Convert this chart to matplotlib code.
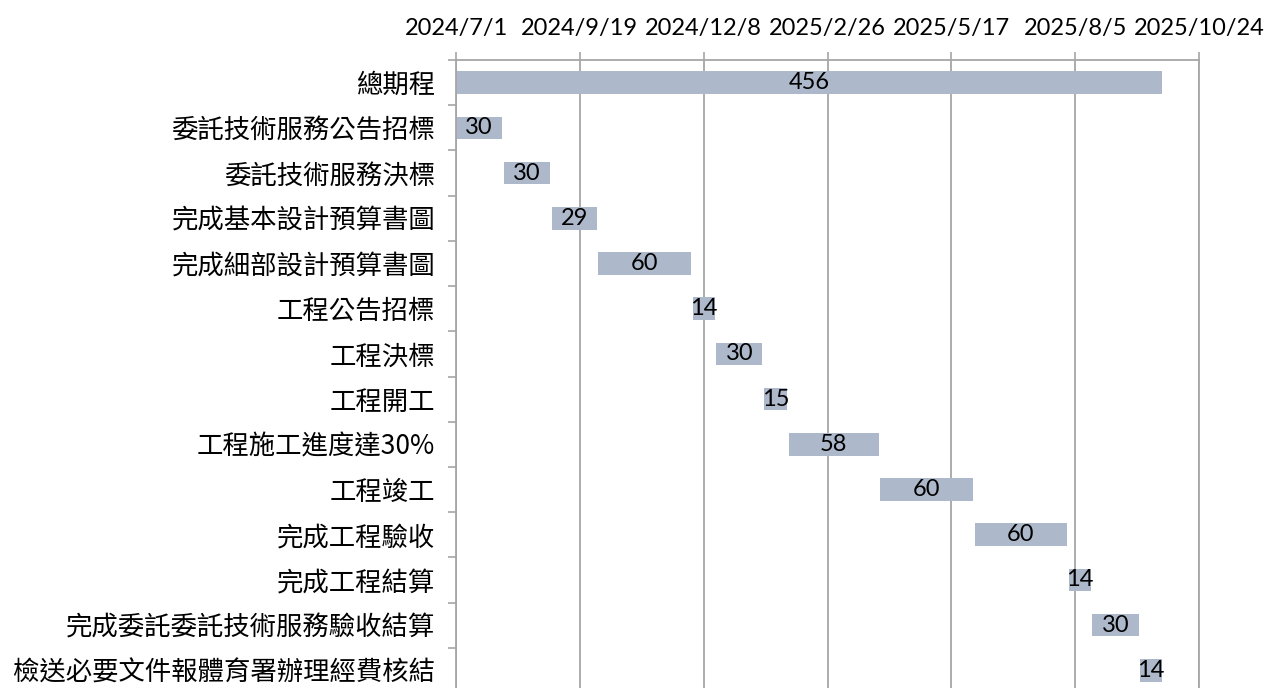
import matplotlib
matplotlib.use("Agg")
import matplotlib.pyplot as plt
import matplotlib.dates as mdates
from matplotlib.ticker import FuncFormatter, FixedLocator
from datetime import date, timedelta

# tasks, top to bottom
tasks = ['總期程', '委託技術服務公告招標', '委託技術服務決標', '完成基本設計預算書圖',
         '完成細部設計預算書圖', '工程公告招標', '工程決標', '工程開工',
         '工程施工進度達30%', '工程竣工', '完成工程驗收', '完成工程結算',
         '完成委託委託技術服務驗收結算', '檢送必要文件報體育署辦理經費核結']
starts = ['2024-07-01', '2024-07-01', '2024-08-01', '2024-09-01',
          '2024-10-01', '2024-12-01', '2024-12-16', '2025-01-16',
          '2025-02-01', '2025-04-01', '2025-06-01', '2025-08-01',
          '2025-08-16', '2025-09-16']
days = [456, 30, 30, 29, 60, 14, 30, 15, 58, 60, 60, 14, 30, 14]

axis_start = date(2024, 7, 1)
axis_end = date(2025, 10, 24)
tick_step = 80  # days between date ticks

bar_color = '#ADB9CA'
line_color = '#A6A6A6'
cjk_font = ['Noto Sans CJK TC', 'DejaVu Sans']
num_font = 'Lato'

fig = plt.figure(figsize=(12.64, 6.88), dpi=100)
ax = fig.add_axes([456/1264, -5/688, (1199-456)/1264, 633/688])

y = list(range(len(tasks)))
left = [mdates.date2num(date.fromisoformat(s)) for s in starts]
bars = ax.barh(y, days, left=left, height=0.5, color=bar_color, zorder=2)
ax.bar_label(bars, labels=[str(d) for d in days], label_type='center',
             fontsize=17, fontfamily=num_font, color='black', zorder=3)

ax.set_ylim(len(tasks) - 0.5, -0.5)
ax.set_xlim(mdates.date2num(axis_start), mdates.date2num(axis_end))

# date ticks on top
tick_dates = []
d = axis_start
while d <= axis_end:
    tick_dates.append(mdates.date2num(d))
    d += timedelta(days=tick_step)
ax.xaxis.set_major_locator(FixedLocator(tick_dates))
ax.xaxis.set_major_formatter(FuncFormatter(
    lambda v, p: (lambda dt: f"{dt.year}/{dt.month}/{dt.day}")(mdates.num2date(v))))
ax.xaxis.tick_top()
ax.tick_params(axis='x', which='major', length=6, width=1.2, color=line_color,
               pad=9, labelsize=17)
for lab in ax.get_xticklabels():
    lab.set_fontfamily(num_font)
ax.grid(axis='x', color=line_color, linewidth=1.3, zorder=0)

# category labels with boundary ticks
ax.set_yticks(y)
ax.set_yticklabels(tasks, fontfamily=cjk_font, fontsize=19)
ax.set_yticks([i - 0.5 for i in range(len(tasks) + 1)], minor=True)
ax.tick_params(axis='y', which='major', length=0, pad=15)
ax.tick_params(axis='y', which='minor', length=6, width=1.2, color=line_color)

for side in ['top', 'left', 'right']:
    ax.spines[side].set_color(line_color)
    ax.spines[side].set_linewidth(1.3)
ax.spines['bottom'].set_visible(False)

fig.savefig('out.png', dpi=100)
